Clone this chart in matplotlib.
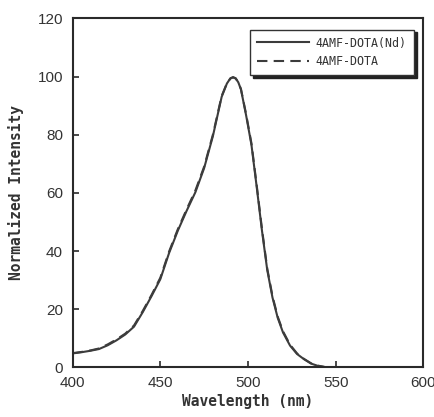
import numpy as np
import matplotlib.pyplot as plt

# emission spectra, normalized to 100 at the peak
wavelength = [400, 405, 410, 415, 420, 425, 430, 435, 440, 445, 450, 455, 460, 465,
              470, 475, 480, 485, 488, 490, 491.5, 493, 494.5, 496, 499, 502, 505,
              508, 511, 514, 517, 520, 524, 528, 532, 536, 540, 544, 548, 600]
intensity_nd = [4.8, 5.2, 5.7, 6.3, 7.6, 9.3, 11.3, 14.0, 19.0, 24.5, 30.3, 39.3,
                47.0, 53.8, 60.2, 68.5, 79.5, 93.0, 97.6, 99.4, 99.8, 99.4, 98.0,
                95.6, 86.5, 76.5, 62.0, 47.0, 33.5, 24.0, 17.0, 12.0, 7.5, 4.6, 2.8,
                1.3, 0.5, 0.1, 0.0, 0.0]
intensity_free = [4.9, 5.3, 5.8, 6.5, 7.9, 9.6, 11.6, 14.4, 19.4, 24.9, 30.8, 39.8,
                  47.5, 54.3, 60.8, 69.0, 80.0, 93.3, 97.7, 99.3, 99.7, 99.3, 98.0,
                  95.7, 86.9, 77.0, 62.6, 47.6, 34.0, 24.5, 17.4, 12.4, 7.8, 4.8,
                  2.9, 1.4, 0.6, 0.1, 0.0, 0.0]

fig = plt.figure(figsize=(4.35, 4.17), dpi=100)
ax = fig.add_axes([0.167, 0.119, 0.806, 0.837])

line_col = '#3c3c3c'
ax.plot(wavelength, intensity_nd, color=line_col, lw=1.5, label='4AMF-DOTA(Nd)')
ax.plot(wavelength, intensity_free, color=line_col, lw=1.5, ls=(0, (5, 3)), label='4AMF-DOTA')

ax.set_xlim(400, 600)
ax.set_ylim(0, 120)
ax.set_xticks([400, 450, 500, 550, 600])
ax.set_yticks([0, 20, 40, 60, 80, 100, 120])
ax.tick_params(direction='in', length=4, width=1.2, colors='#2a2a2a',
               top=False, right=False)
ax.tick_params(axis='x', pad=6)
ax.tick_params(axis='y', pad=7)
for t in ax.get_xticklabels() + ax.get_yticklabels():
    t.set_fontfamily('Liberation Sans')
    t.set_fontsize(11)
    t.set_color('#333333')
for s in ax.spines.values():
    s.set_linewidth(1.5)
    s.set_color('#2a2a2a')

lab_font = dict(family='DejaVu Sans Mono', fontweight='bold', fontsize=10.5, color='#333333')
ax.set_xlabel('Wavelength (nm)', labelpad=3, **lab_font)
ax.set_ylabel('Normalized Intensity', labelpad=10, **lab_font)

leg = ax.legend(loc='upper right', bbox_to_anchor=(0.973, 0.968), borderaxespad=0,
                frameon=True, fancybox=False, shadow={'color': '#222222', 'alpha': 1.0},
                handlelength=4.4, borderpad=0.6, labelspacing=0.45, handletextpad=0.6,
                prop={'family': 'DejaVu Sans Mono', 'size': 8.4})
leg.get_frame().set_edgecolor('#333333')
leg.get_frame().set_linewidth(1.0)
for t in leg.get_texts():
    t.set_color('#333333')

fig.savefig('out.png', dpi=100)
